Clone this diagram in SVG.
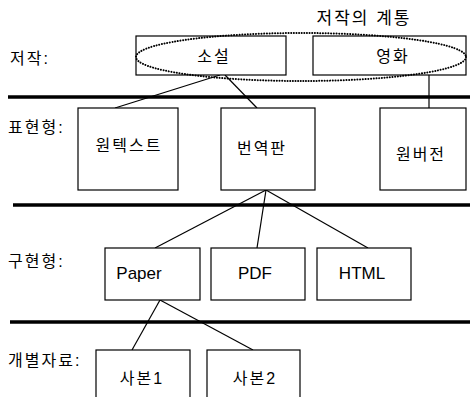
<svg xmlns="http://www.w3.org/2000/svg" width="470" height="397" viewBox="0 0 470 397">
<style>
.bx{fill:#fff;stroke:#000;stroke-width:1.2}
.t{font-family:"Liberation Sans","Noto Sans CJK KR",sans-serif;font-size:16px;fill:#000;text-anchor:middle}
.k{letter-spacing:2px}
.e{font-size:17px}
.lb{font-family:"Liberation Sans","Noto Sans CJK KR",sans-serif;font-size:16px;fill:#000;letter-spacing:2px}
.band{stroke:#000;stroke-width:3.5}
.c{stroke:#000;stroke-width:1.2;fill:none}
</style>
<rect width="470" height="397" fill="#fff"/>
<g id="bands">
<line class="band" x1="8" y1="97" x2="470" y2="97"/>
<line class="band" x1="13" y1="205" x2="470" y2="205"/>
<line class="band" x1="10" y1="322" x2="470" y2="322"/>
</g>
<g id="levels">
<text class="lb" x="10" y="64">저작:</text>
<text class="lb" x="8" y="133">표현형:</text>
<text class="lb" x="8" y="267">구현형:</text>
<text class="lb" x="8" y="366">개별자료:</text>
</g>
<g id="connectors">
<line class="c" x1="220" y1="75" x2="115" y2="108"/>
<line class="c" x1="225" y1="75" x2="257" y2="108"/>
<line class="c" x1="429" y1="75" x2="429" y2="108"/>
<line class="c" x1="266" y1="190" x2="155" y2="248"/>
<line class="c" x1="266" y1="190" x2="257" y2="248"/>
<line class="c" x1="266" y1="190" x2="368" y2="248"/>
<line class="c" x1="160" y1="300" x2="132" y2="350"/>
<line class="c" x1="160" y1="300" x2="253" y2="350"/>
</g>
<g id="n-soseol"><rect class="bx" x="136" y="36" width="150" height="39"/><text class="t k" x="214" y="62">소설</text></g>
<g id="n-yeonghwa"><rect class="bx" x="313" y="36" width="153" height="39"/><text class="t k" x="393" y="62">영화</text></g>
<g id="n-lineage">
<ellipse cx="301" cy="57" rx="165" ry="24" fill="none" stroke="#000" stroke-width="2" stroke-dasharray="0.1 2.6" stroke-linecap="round"/>
<text class="t k" x="364" y="24" style="font-size:17px">저작의 계통</text>
</g>
<g id="n-orig"><rect class="bx" x="78" y="108" width="100" height="82"/><text class="t k" x="129" y="151">원텍스트</text></g>
<g id="n-trans"><rect class="bx" x="221" y="108" width="94" height="82"/><text class="t k" x="262" y="154">번역판</text></g>
<g id="n-origver"><rect class="bx" x="380" y="108" width="86" height="82"/><text class="t k" x="421" y="160">원버전</text></g>
<g id="n-paper"><rect class="bx" x="105" y="248" width="95" height="52"/><text class="t e" x="139" y="279">Paper</text></g>
<g id="n-pdf"><rect class="bx" x="211" y="248" width="94" height="52"/><text class="t e" x="255" y="279">PDF</text></g>
<g id="n-html"><rect class="bx" x="317" y="248" width="94" height="52"/><text class="t e" x="362" y="279">HTML</text></g>
<g id="n-copy1"><rect class="bx" x="96" y="350" width="94" height="60"/><text class="t k" x="142" y="384">사본1</text></g>
<g id="n-copy2"><rect class="bx" x="207" y="350" width="93" height="60"/><text class="t k" x="255" y="384">사본2</text></g>
</svg>
